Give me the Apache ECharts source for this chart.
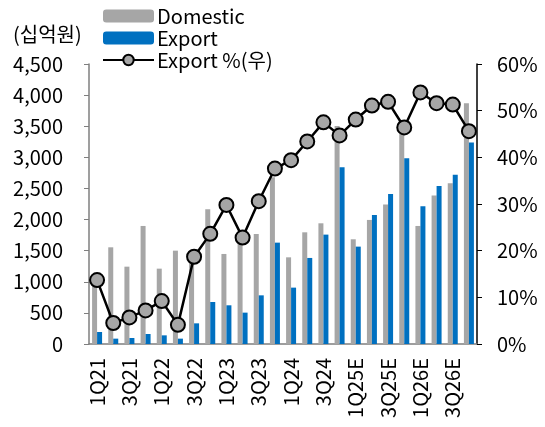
<!DOCTYPE html>
<html>
<head>
<meta charset="utf-8">
<script src="https://cdn.jsdelivr.net/npm/echarts@6/dist/echarts.min.js"></script>
<style>
  html, body { margin: 0; padding: 0; background: #fff; }
  #main { width: 545px; height: 427px; }
</style>
</head>
<body>
<div id="main"></div>
<script>
// 분기
var quarters = ['1Q21','2Q21','3Q21','4Q21','1Q22','2Q22','3Q22','4Q22',
                '1Q23','2Q23','3Q23','4Q23','1Q24','2Q24','3Q24','4Q24',
                '1Q25E','2Q25E','3Q25E','4Q25E','1Q26E','2Q26E','3Q26E','4Q26E'];
// 내수 (십억원)
var domestic = [1050,1554,1243,1897,1211,1500,1400,2165,1447,1700,1768,2680,
                1393,1795,1940,3505,1683,1994,2240,3450,1897,2385,2583,3870];
// 수출 (십억원)
var exportVal = [193,86,96,161,139,86,332,675,622,504,782,1629,
                 906,1383,1758,2840,1565,2074,2412,2985,2213,2540,2722,3240];
// 수출 비중 (%)
var exportPct = [13.7,4.5,5.7,7.2,9.2,4.1,18.7,23.6,29.8,22.8,30.6,37.6,
                 39.4,43.4,47.5,44.7,48.1,51.1,51.9,46.4,53.9,51.6,51.3,45.6];

var font = "'Noto Sans CJK KR', 'Noto Sans', sans-serif";
var chart = echarts.init(document.getElementById('main'));

chart.setOption({
    animation: false,
    textStyle: {fontFamily: font},
    title: {
        text: '(십억원)',
        left: 8, top: 19,
        textStyle: {fontSize: 20, fontWeight: 'normal', color: '#000', fontFamily: font}
    },
    legend: {
        orient: 'vertical',
        left: 97, top: 1,
        itemWidth: 51, itemHeight: 13, itemGap: 2,
        textStyle: {fontSize: 20, color: '#000', lineHeight: 20, padding: [0, 0, 0, -2]},
        data: ['Domestic', 'Export', 'Export %(우)']
    },
    grid: {left: 89, right: 68, top: 64, bottom: 83},
    xAxis: {
        type: 'category',
        data: quarters,
        axisLine: {lineStyle: {color: '#7f7f7f', width: 1.5}},
        axisTick: {interval: 0, length: 5, lineStyle: {color: '#7f7f7f'}},
        axisLabel: {interval: 1, rotate: 90, margin: 14, fontSize: 20, color: '#000'}
    },
    yAxis: [{
        type: 'value',
        min: 0, max: 4500, interval: 500,
        splitLine: {show: false},
        axisLine: {show: true, lineStyle: {color: '#7f7f7f', width: 1.5}},
        axisTick: {show: true, length: 5, lineStyle: {color: '#7f7f7f'}},
        axisLabel: {
            margin: 26, fontSize: 20, color: '#000',
            formatter: function(v) { return v.toLocaleString('en-US'); }
        }
    }, {
        type: 'value',
        min: 0, max: 60, interval: 10,
        splitLine: {show: false},
        axisLine: {show: true, lineStyle: {color: '#000', width: 1.5}},
        axisTick: {show: true, length: 5, lineStyle: {color: '#000'}},
        axisLabel: {margin: 20, fontSize: 20, color: '#000', formatter: '{value}%'}
    }],
    series: [{
        name: 'Domestic',
        type: 'bar',
        barWidth: 5,
        barGap: '0%',
        itemStyle: {color: '#a6a6a6'},
        data: domestic
    }, {
        name: 'Export',
        type: 'bar',
        barWidth: 5,
        itemStyle: {color: '#0070c0'},
        data: exportVal
    }, {
        name: 'Export %(우)',
        type: 'line',
        yAxisIndex: 1,
        symbol: 'circle',
        symbolSize: 14,
        showAllSymbol: true,
        lineStyle: {color: '#000', width: 2.5},
        itemStyle: {color: '#a6a6a6', borderColor: '#000', borderWidth: 2},
        data: exportPct
    }]
});
</script>
</body>
</html>
